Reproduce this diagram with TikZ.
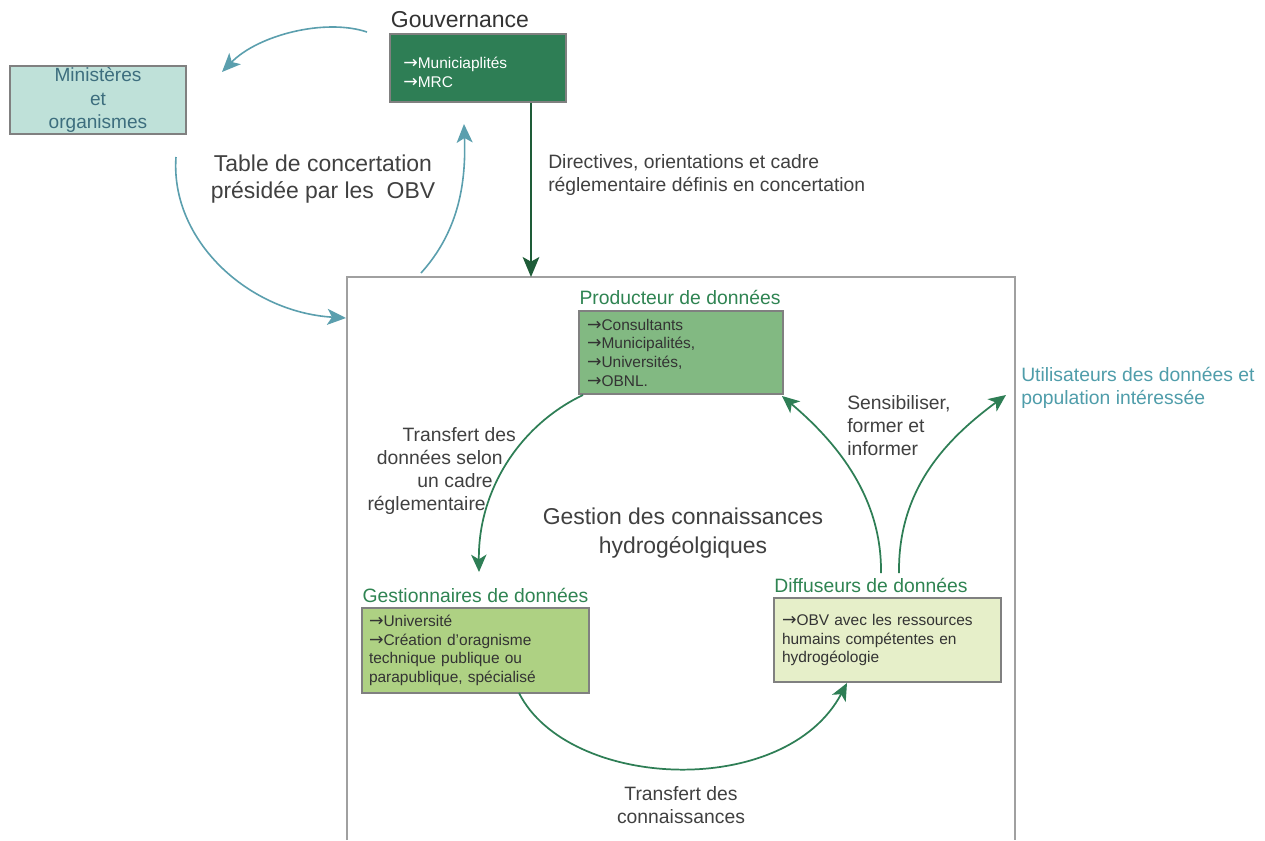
\documentclass[tikz,border=0pt]{standalone}
\usepackage{fontspec}
\setmainfont{Liberation Sans}
\newfontfamily\arrfont{DejaVu Sans}
\usetikzlibrary{arrows.meta}
\definecolor{govfill}{HTML}{2E7E55}
\definecolor{minfill}{HTML}{BFE1D9}
\definecolor{mintext}{HTML}{3D6E7E}
\definecolor{tealline}{HTML}{5B9FAE}
\definecolor{prodfill}{HTML}{82B982}
\definecolor{gestfill}{HTML}{AED183}
\definecolor{difffill}{HTML}{E6EFC9}
\definecolor{greenline}{HTML}{2E7E55}
\definecolor{titlegreen}{HTML}{2F8452}
\definecolor{darkline}{HTML}{1E5C38}
\definecolor{textgray}{HTML}{404040}
\definecolor{textdark}{HTML}{333333}
\definecolor{usertext}{HTML}{4F9DAA}
\definecolor{boxgray}{HTML}{808080}
\definecolor{framegray}{HTML}{A0A0A0}
\newcommand{\rarr}{{\arrfont\fontsize{13}{13}\selectfont →}}
\begin{document}
\begin{tikzpicture}[x=0.75pt,y=-0.75pt,
  box/.style={draw=boxgray,line width=0.9pt,rectangle,inner ysep=0pt,align=left,text=textdark,font=\fontsize{11.6}{14}\selectfont},
  titlelbl/.style={text=titlegreen,font=\fontsize{14.5}{17.25}\selectfont,inner sep=0pt},
  lbl/.style={text=textgray,font=\fontsize{14.5}{17.25}\selectfont,inner sep=0pt},
  big/.style={text=textgray,font=\fontsize{17.2}{20.5}\selectfont,inner sep=0pt,align=center},
  tealarrow/.style={draw=tealline,line width=1.2pt,-{Stealth[length=14pt,width=12pt,inset=3.5pt]}},
  greenarrow/.style={draw=greenline,line width=1.3pt,-{Stealth[length=13pt,width=11.5pt,inset=3.5pt]}},
  darkarrow/.style={draw=darkline,line width=1.5pt,-{Stealth[length=15pt,width=12.5pt,inset=3.5pt]}},
]
\useasboundingbox (0,0) rectangle (1265,840);
\fill[white] (0,0) rectangle (1265,840);
% frame
\draw[framegray,line width=0.8pt] (347,840) -- (347,277) -- (1015,277) -- (1015,840);

% governance
\node[text=textdark,font=\fontsize{17.25}{20}\selectfont,inner sep=0pt] (govtitle) at (460,20) {Gouvernance};
\node[box,fill=govfill,minimum width=132pt,minimum height=51pt,inner xsep=0pt] (gov) at (478,68) {};
\node[anchor=west,align=left,text=white,inner sep=0pt,font=\fontsize{11.6}{14.25}\selectfont] (govtxt) at (403,72.5) {\rarr Municiaplités\\\rarr MRC};

% ministeres
\node[box,fill=minfill,minimum width=132pt,minimum height=51pt,text=mintext,align=center,font=\fontsize{14.3}{17.6}\selectfont] (min) at (98,100) {Ministères\\et\\organismes};

\node[big] (table) at (323,179) {Table de concertation\\présidée par les\ \ OBV};

\node[lbl,anchor=west,align=left] (directives) at (548,174.5) {Directives, orientations et cadre\\réglementaire définis en concertation};

% producteur
\node[titlelbl] (prodtitle) at (680,297) {Producteur de données};
\node[box,fill=prodfill,inner xsep=6pt,text width=141pt,minimum height=62.25pt] (prod) at (681,352.5) {\rarr Consultants\\\rarr Municipalités,\\\rarr Universités,\\\rarr OBNL.};

% gestionnaires
\node[titlelbl] (gesttitle) at (475.5,595) {Gestionnaires de données};
\node[box,fill=gestfill,inner xsep=5.25pt,text width=159.75pt,minimum height=63.75pt] (gest) at (475.5,650.5) {\rarr Université\\\rarr Création d’oragnisme\\technique publique ou\\parapublique, spécialisé};

% diffuseurs
\node[titlelbl] (difftitle) at (871,585) {Diffuseurs de données};
\node[box,fill=difffill,inner xsep=6pt,text width=158.25pt,minimum height=63pt] (diff) at (887.5,640) {\rarr OBV avec les ressources\\humains compétentes en\\hydrogéologie};

\node[big,font=\fontsize{17.2}{21.75}\selectfont] (gestion) at (683,533.5) {Gestion des connaissances\\hydrogéolgiques};

\node[lbl,anchor=east,align=right] (transfert1) at (516,471) {Transfert des\\données selon\rule{9.75pt}{0pt}\\un cadre\rule{17.25pt}{0pt}\\réglementaire\rule{22.5pt}{0pt}};
\node[lbl,anchor=west,align=left] (sens) at (847,425.5) {Sensibiliser,\\former et\\informer};
\node[lbl,anchor=west,align=left,text=usertext] (users) at (1021,388) {Utilisateurs des données et\\population intéressée};
\node[lbl,align=center] (transfert2) at (681,805.5) {Transfert des\\connaissances};

% coordinates
\coordinate (t1s) at (367,32);
\coordinate (t1e) at (222,72);
\coordinate (t2s) at (176,157);
\coordinate (t2e) at (346,318);
\coordinate (t3s) at (421,273);
\coordinate (t3e) at (464,124);
\coordinate (dge) at (531,277);
\coordinate (g1s) at (583,395);
\coordinate (g1e) at (479,572);
\coordinate (g2s) at (519,693);
\coordinate (g2e) at (847,683);
\coordinate (g3s) at (881,573);
\coordinate (g3e) at (782,396);
\coordinate (g4s) at (899,573);
\coordinate (g4e) at (1006,395);

% teal arrows
\draw[tealarrow] (t1s) .. controls (325,18) and (258,35) .. (t1e);
\draw[tealarrow] (t2s) .. controls (170,240) and (248,312) .. (t2e);
\draw[tealarrow] (t3s) .. controls (460,230) and (466,180) .. (t3e);

% dark arrow
\draw[darkarrow] (gov.south -| dge) -- (dge);

% green arrows
\draw[greenarrow] (g1s) .. controls (520,425) and (478,490) .. (g1e);
\draw[greenarrow] (g2s) .. controls (568,790) and (785,800) .. (g2e);
\draw[greenarrow] (g3s) .. controls (882,500) and (840,445) .. (g3e);
\draw[greenarrow] (g4s) .. controls (898,490) and (945,440) .. (g4e);
\end{tikzpicture}
\end{document}
